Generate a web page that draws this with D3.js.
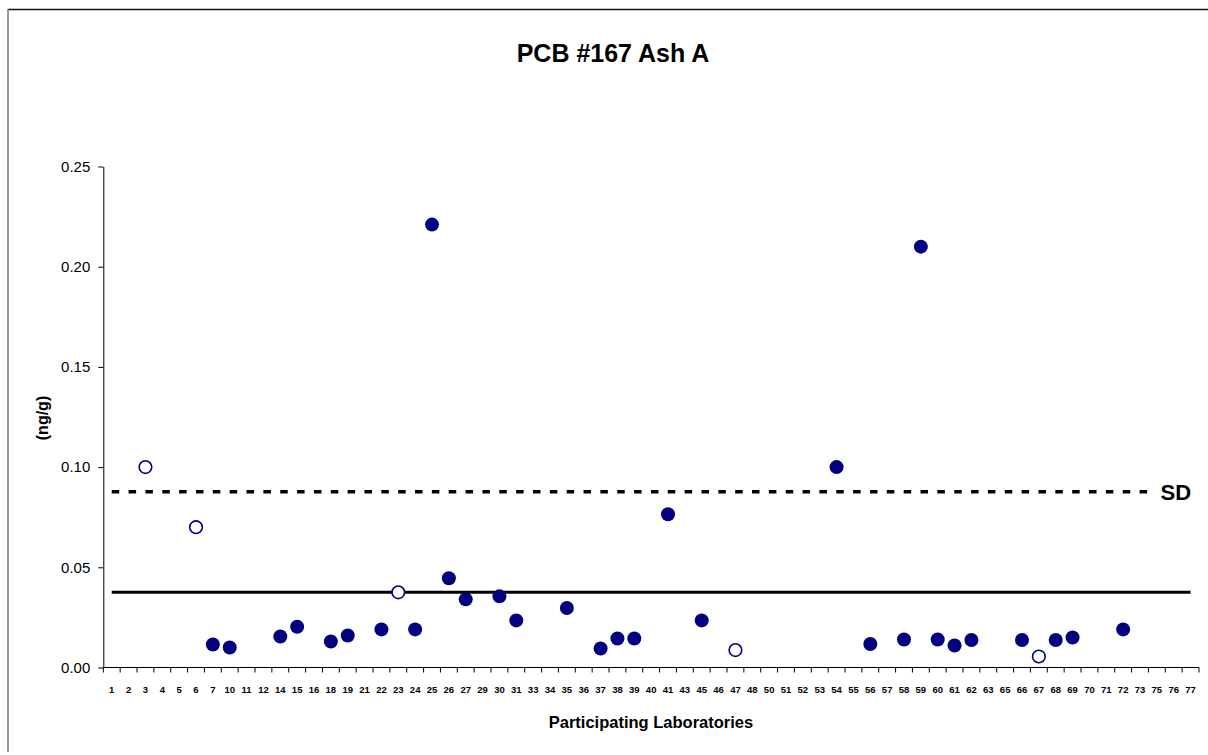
<!DOCTYPE html>
<html>
<head>
<meta charset="utf-8">
<script src="https://cdn.jsdelivr.net/npm/d3@7"></script>
<style>
  html, body { margin: 0; padding: 0; background: #fff; }
  svg { display: block; font-family: Arial, "Liberation Sans", sans-serif; }
</style>
</head>
<body>
<svg id="chart" width="1208" height="755"></svg>
<script>
// Laboratory codes along the category axis
const labs = [1,2,3,4,5,6,7,10,11,12,14,15,16,18,19,21,22,23,24,25,26,27,29,30,31,33,34,35,36,37,38,39,40,41,43,45,46,47,48,50,51,52,53,54,55,56,57,58,59,60,61,62,63,65,66,67,68,69,70,71,72,73,75,76,77];

// Reported results (ng/g) – included labs
const includedLabs   = [7, 10, 14, 15, 18, 19, 22, 24, 25, 26, 27, 30, 31, 35, 37, 38, 39, 41, 45, 54, 56, 58, 59, 60, 61, 62, 66, 68, 69, 72];
const includedValues = [0.0115, 0.010, 0.0155, 0.0203, 0.013, 0.016, 0.019, 0.019, 0.221, 0.0445, 0.034, 0.0355, 0.0235, 0.0297, 0.0095, 0.0145, 0.0145, 0.0765, 0.0235, 0.100, 0.0117, 0.014, 0.210, 0.014, 0.011, 0.0137, 0.0137, 0.0137, 0.015, 0.019];

// Reported results (ng/g) – other labs, shown as open circles
const otherLabs   = [3, 6, 23, 47, 67];
const otherValues = [0.100, 0.070, 0.0375, 0.0087, 0.0055];

// Consensus value and upper SD limit
const consensus = 0.0375;
const sdLimit   = 0.0877;

const yTicks = [0, 0.05, 0.10, 0.15, 0.20, 0.25];

const svg = d3.select("#chart");
const plot = { left: 103.3, right: 1199, top: 166.5, bottom: 667.5 };
const navy = "#000080";

// outer chart frame (top and left edges)
svg.append("line").attr("x1", 8).attr("x2", 1208).attr("y1", 9.5).attr("y2", 9.5)
  .attr("stroke", "#111").attr("stroke-width", 1.5);
svg.append("line").attr("x1", 8).attr("x2", 8).attr("y1", 9).attr("y2", 752)
  .attr("stroke", "#777").attr("stroke-width", 1.5);

const x = d3.scaleBand().domain(labs.map(String)).range([plot.left, plot.right]).padding(0);
const y = d3.scaleLinear().domain([0, 0.25]).range([plot.bottom, plot.top]);
const cx = d => x(String(d)) + x.bandwidth() / 2;

// title
svg.append("text").attr("x", 613).attr("y", 62).attr("text-anchor", "middle")
  .attr("font-size", 25).attr("font-weight", "bold").text("PCB #167 Ash A");

// y axis
const yAxis = svg.append("g").attr("transform", `translate(${plot.left},0)`)
  .call(d3.axisLeft(y).tickValues(yTicks).tickFormat(d3.format(".2f")).tickSize(5).tickSizeOuter(0).tickPadding(8));
yAxis.selectAll("text").attr("font-size", 15).attr("fill", "#000").attr("font-family", "Arial, 'Liberation Sans', sans-serif");
yAxis.selectAll("line, path").attr("stroke", "#000");

// x axis: ticks sit between categories
const xAxis = svg.append("g").attr("transform", `translate(0,${plot.bottom})`);
xAxis.append("line").attr("x1", plot.left).attr("x2", plot.right).attr("y1", 0).attr("y2", 0).attr("stroke", "#000");
xAxis.selectAll("line.tick").data(labs.concat(["end"])).join("line").attr("class", "tick")
  .attr("x1", (d, i) => plot.left + i * x.step()).attr("x2", (d, i) => plot.left + i * x.step())
  .attr("y1", 0).attr("y2", 5).attr("stroke", "#000");
xAxis.selectAll("text").data(labs).join("text")
  .attr("x", d => cx(d)).attr("y", 25).attr("text-anchor", "middle")
  .attr("font-size", 9.5).attr("font-weight", "bold").text(d => d);

// axis titles
svg.append("text").attr("transform", "translate(48,418) rotate(-90)").attr("text-anchor", "middle")
  .attr("font-size", 16).attr("font-weight", "bold").text("(ng/g)");
svg.append("text").attr("x", 651).attr("y", 728).attr("text-anchor", "middle")
  .attr("font-size", 16.5).attr("font-weight", "bold").text("Participating Laboratories");

// reference lines
const x0 = cx(labs[0]), x1 = cx(labs[labs.length - 1]);
svg.append("line").attr("x1", x0).attr("x2", x1).attr("y1", y(sdLimit)).attr("y2", y(sdLimit))
  .attr("stroke", "#000").attr("stroke-width", 3.5).attr("stroke-dasharray", "7.5 9.35");
svg.append("line").attr("x1", x0).attr("x2", x1).attr("y1", y(consensus)).attr("y2", y(consensus))
  .attr("stroke", "#000").attr("stroke-width", 3);

// SD label over the end of the dashed line
const sdG = svg.append("g").attr("transform", `translate(${x1 - 31},${y(sdLimit)})`);
sdG.append("rect").attr("x", -4).attr("y", -10).attr("width", 38).attr("height", 20).attr("fill", "#fff");
sdG.append("text").attr("x", 1).attr("y", 8).attr("font-size", 22).attr("font-weight", "bold").text("SD");

// points
svg.append("g").selectAll("circle").data(includedLabs.map((l, i) => [l, includedValues[i]])).join("circle")
  .attr("cx", d => cx(d[0])).attr("cy", d => y(d[1])).attr("r", 7).attr("fill", navy);
svg.append("g").selectAll("circle").data(otherLabs.map((l, i) => [l, otherValues[i]])).join("circle")
  .attr("cx", d => cx(d[0])).attr("cy", d => y(d[1])).attr("r", 6.3)
  .attr("fill", "#fff").attr("stroke", navy).attr("stroke-width", 1.6);
</script>
</body>
</html>
